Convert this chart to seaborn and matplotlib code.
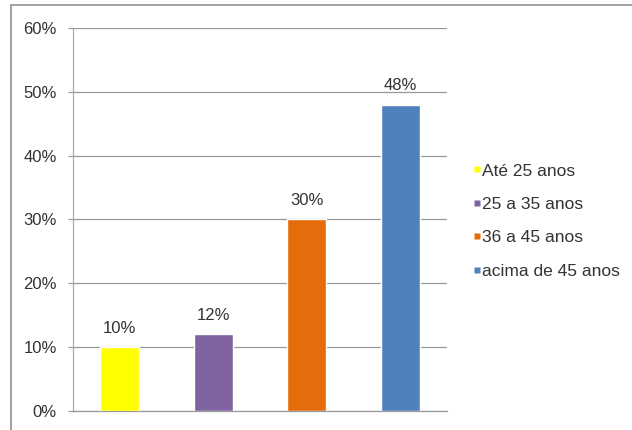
import matplotlib
matplotlib.use("Agg")
import matplotlib.pyplot as plt
import seaborn as sns
import pandas as pd
from matplotlib.lines import Line2D
from matplotlib.patches import Rectangle
from matplotlib.ticker import FuncFormatter

categories = ["Até 25 anos", "25 a 35 anos", "36 a 45 anos", "acima de 45 anos"]
values = [10, 12, 30, 48]
colors = ["#FFFF00", "#8064A2", "#E46C0A", "#4F81BD"]
yticks = [0, 10, 20, 30, 40, 50, 60]

sns.set_style("white")
plt.rcParams['font.family'] = ['Liberation Sans', 'DejaVu Sans']

df = pd.DataFrame({"faixa": categories, "pct": values})

fig = plt.figure(figsize=(6.32, 4.30), dpi=100)
ax = fig.add_axes([73/632, 19/430, (447-73)/632, (411-28)/430])

sns.barplot(data=df, x="faixa", y="pct", hue="faixa", palette=colors,
            order=categories, hue_order=categories, width=0.42,
            legend=False, ax=ax, saturation=1, zorder=3)

ax.set_ylim(0, 60)
ax.set_xlim(-0.5, 3.5)
ax.set_yticks(yticks)
ax.yaxis.set_major_formatter(FuncFormatter(lambda v, p: f"{int(v)}%"))
ax.set_xticks([])
ax.set_xlabel("")
ax.set_ylabel("")
ax.grid(axis="y", color="#999999", linewidth=0.9, zorder=0)
ax.tick_params(axis="y", labelsize=12, labelcolor="#333333", length=3.6,
               color="#999999", width=0.9, pad=8, left=True)
for s in ["top", "right"]:
    ax.spines[s].set_visible(False)
ax.spines["left"].set_color("#aaaaaa")
ax.spines["bottom"].set_color("#999999")
ax.spines["left"].set_linewidth(0.9)
ax.spines["bottom"].set_linewidth(0.9)

for i, v in enumerate(values):
    ax.annotate(f"{v}%", (i, v), xytext=(0, 8), textcoords="offset points",
                ha="center", va="bottom", fontsize=12, color="#333333")

handles = [Line2D([], [], marker="s", linestyle="none", markersize=3.8,
                  markerfacecolor=c, markeredgecolor="none") for c in colors]
fig.legend(handles, categories, loc="center left",
           bbox_to_anchor=(474/632, (430-221)/430), frameon=False,
           fontsize=12.5, handlelength=0.35, handletextpad=0.1,
           labelspacing=1.05, labelcolor="#333333",
           borderpad=0, borderaxespad=0)

fig.patches.append(Rectangle((11/632, -0.05), 1.0, 1.05 - 5/430,
                             transform=fig.transFigure, fill=False,
                             edgecolor="#909090", linewidth=1.2))

fig.savefig("out.png", dpi=100)
